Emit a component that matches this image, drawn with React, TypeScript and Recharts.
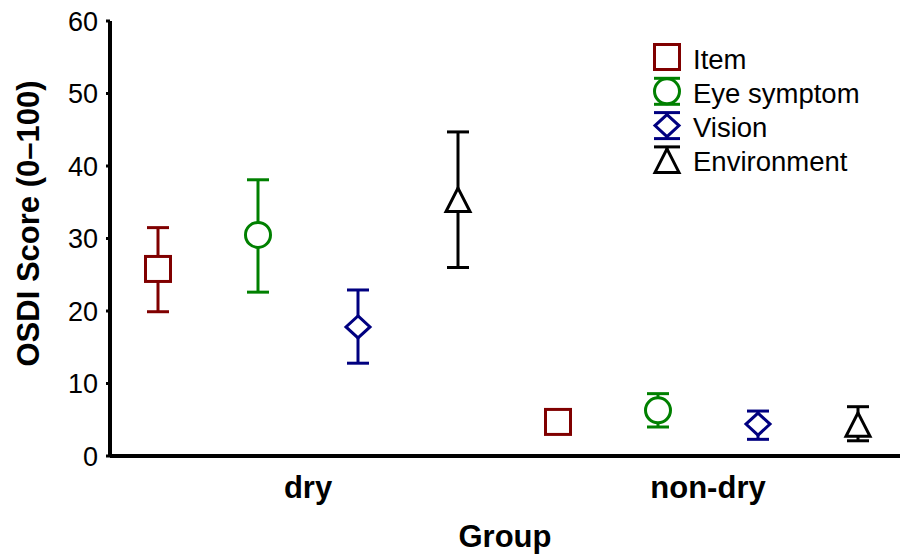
import React from 'react';
import {
  ScatterChart, Scatter, XAxis, YAxis, ErrorBar,
} from 'recharts';

const FONT = '"Liberation Sans", Arial, sans-serif';

const groups = ['dry', 'non-dry'];
const seriesNames = ['Item', 'Eye symptom', 'Vision', 'Environment'];
const seriesColors = ['#800000', '#008000', '#000080', '#000000'];
const seriesShapes = ['square', 'circle', 'diamond', 'triangle'];

// mean score with lower / upper ends of the interval, per group
const itemMean = [25.8, 4.7];
const itemLow = [19.9, 3.6];
const itemHigh = [31.5, 5.8];

const eyeMean = [30.5, 6.3];
const eyeLow = [22.6, 4.0];
const eyeHigh = [38.1, 8.6];

const visionMean = [17.8, 4.4];
const visionLow = [12.8, 2.3];
const visionHigh = [22.9, 6.2];

const envMean = [35.3, 4.3];
const envLow = [26.0, 2.1];
const envHigh = [44.7, 6.8];

const yTicks = [0, 10, 20, 30, 40, 50, 60];

const means = [itemMean, eyeMean, visionMean, envMean];
const lows = [itemLow, eyeLow, visionLow, envLow];
const highs = [itemHigh, eyeHigh, visionHigh, envHigh];

// four slots per group, group label sits in the middle of them
const slot = (g: number, s: number) => g * 4 + 1 + s;
const groupTicks = groups.map((_, g) => g * 4 + 2.5);

const seriesData = seriesNames.map((_, s) =>
  groups.map((_, g) => ({
    x: slot(g, s),
    y: means[s][g],
    err: [means[s][g] - lows[s][g], highs[s][g] - means[s][g]],
  }))
);

function Marker({ kind, cx, cy, color }: { kind: string; cx: number; cy: number; color: string }) {
  const common = { stroke: color, strokeWidth: 3, fill: '#fff' };
  if (kind === 'square') return <rect x={cx - 12.5} y={cy - 12.5} width={25} height={25} {...common} />;
  if (kind === 'circle') return <circle cx={cx} cy={cy} r={12.5} {...common} />;
  if (kind === 'diamond')
    return <polygon points={`${cx},${cy - 11} ${cx + 12},${cy} ${cx},${cy + 11} ${cx - 12},${cy}`} {...common} />;
  return <polygon points={`${cx},${cy - 12} ${cx + 12},${cy + 11.5} ${cx - 12},${cy + 11.5}`} {...common} />;
}

function LegendBox() {
  return (
    <svg width={240} height={150} style={{ display: 'block', overflow: 'visible' }}>
      {seriesNames.map((name, i) => {
        const cy = 19 + i * 34.3;
        const color = seriesColors[i];
        const caps = i > 0;
        return (
          <g key={name}>
            {caps && (
              <g stroke={color} strokeWidth={3}>
                <line x1={17} x2={17} y1={cy - 13} y2={cy + (i === 3 ? 0 : 13)} />
                <line x1={4} x2={30} y1={cy - 13} y2={cy - 13} />
                {i !== 3 && <line x1={4} x2={30} y1={cy + 13} y2={cy + 13} />}
              </g>
            )}
            <Marker kind={seriesShapes[i]} cx={17} cy={cy + (i === 3 ? 1 : 0)} color={color} />
            <text x={43} y={cy + 11.5} fontSize={27.5} fontFamily={FONT} fill="#000">{name}</text>
          </g>
        );
      })}
    </svg>
  );
}

export default function App() {
  return (
    <div style={{ position: 'absolute', left: 0, top: 0, width: 900, height: 555, background: '#fff' }}>
      <ScatterChart width={900} height={555} margin={{ top: 21, right: 0, bottom: 0, left: 50 }}>
        <XAxis
          type="number"
          dataKey="x"
          domain={[0.52, 8.42]}
          ticks={groupTicks}
          tickFormatter={(v: number) => groups[Math.round((v - 2.5) / 4)]}
          allowDataOverflow
          height={99}
          axisLine={{ stroke: '#000', strokeWidth: 4 }}
          tickLine={false}
          tickSize={0}
          tickMargin={20}
          tick={{ fill: '#000', fontSize: 31, fontWeight: 'bold', fontFamily: FONT }}
          label={(p: any) => {
            const vb = p.viewBox;
            return (
              <text x={vb.x + vb.width / 2} y={547} textAnchor="middle" fontSize={31}
                fontWeight="bold" fontFamily={FONT} fill="#000">Group</text>
            );
          }}
        />
        <YAxis
          type="number"
          dataKey="y"
          domain={[0, 60]}
          ticks={yTicks}
          width={60}
          axisLine={{ stroke: '#000', strokeWidth: 4 }}
          tickLine={{ stroke: '#000', strokeWidth: 3 }}
          tickSize={4}
          tickMargin={8}
          tick={{ fill: '#000', fontSize: 27, fontFamily: FONT }}
          label={(p: any) => {
            const vb = p.viewBox;
            const x = vb.x - 22;
            const y = vb.y + vb.height / 2 - 15;
            return (
              <text x={x} y={y} transform={`rotate(-90, ${x}, ${y})`} textAnchor="middle"
                dominantBaseline="central" fontSize={31} fontWeight="bold" fontFamily={FONT} fill="#000">
                OSDI Score (0–100)
              </text>
            );
          }}
        />
        {seriesNames.map((name, s) => (
          <Scatter
            key={name}
            name={name}
            data={seriesData[s]}
            isAnimationActive={false}
            shape={(p: any) => <Marker kind={seriesShapes[s]} cx={p.cx} cy={p.cy} color={seriesColors[s]} />}
          >
            <ErrorBar
              dataKey="err"
              direction="y"
              width={11}
              strokeWidth={3}
              stroke={seriesColors[s]}
              isAnimationActive={false}
            />
          </Scatter>
        ))}
      </ScatterChart>
      <div style={{ position: 'absolute', left: 650, top: 38 }}>
        <LegendBox />
      </div>
    </div>
  );
}
